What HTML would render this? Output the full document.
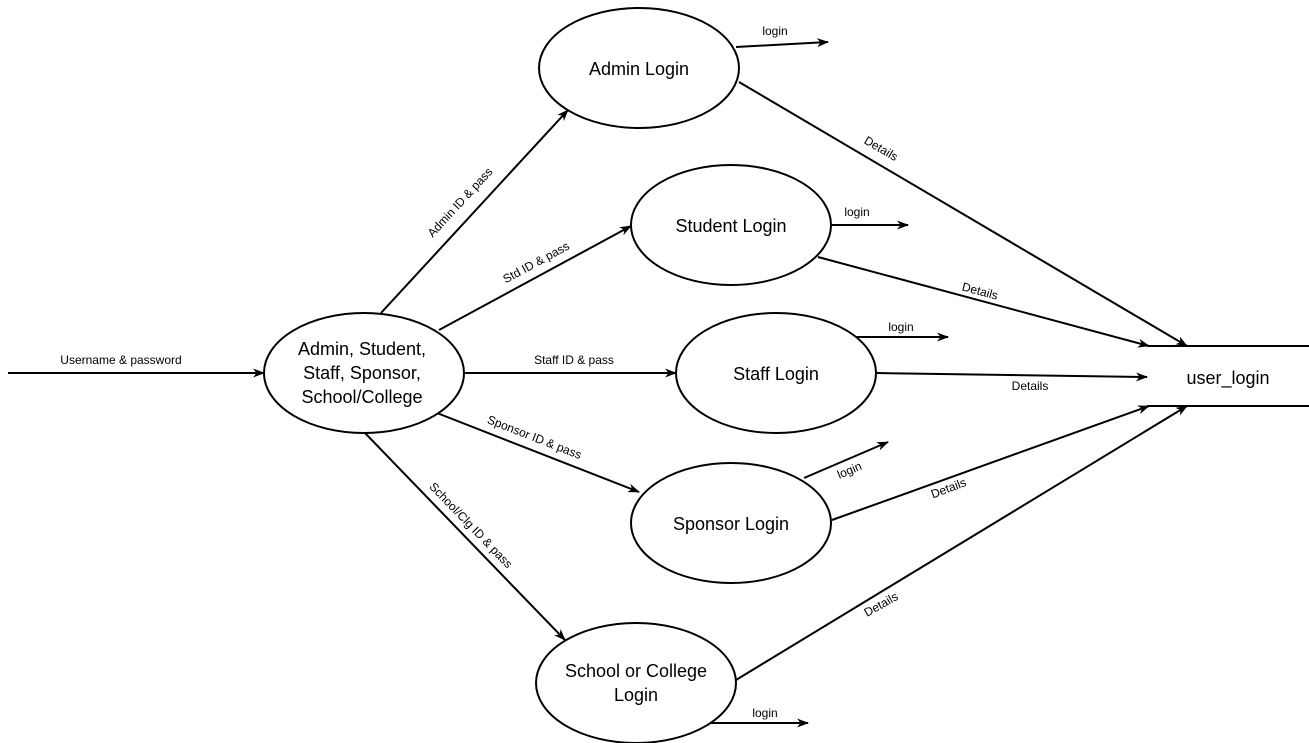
<!DOCTYPE html>
<html><head><meta charset="utf-8"><style>
html,body{margin:0;padding:0;background:#fff;}
svg{display:block;}
text{font-family:"Liberation Sans",Arial,sans-serif;fill:#000;}
.b{font-size:18px;text-anchor:middle;}
.s{font-size:12px;text-anchor:middle;}
</style></head><body>
<svg width="1309" height="743" viewBox="0 0 1309 743">
<defs><marker id="a" markerWidth="12" markerHeight="12" refX="11" refY="6" orient="auto" markerUnits="userSpaceOnUse"><path d="M0,1.5 L12,6 L0,10.5 L3.5,6 Z" fill="#000"/></marker></defs>
<g stroke="#000" stroke-width="2" fill="none">
<line x1="8" y1="373" x2="264" y2="373" marker-end="url(#a)"/>
<line x1="381" y1="313" x2="568" y2="110" marker-end="url(#a)"/>
<line x1="439" y1="330" x2="631" y2="226" marker-end="url(#a)"/>
<line x1="464" y1="373" x2="676" y2="373" marker-end="url(#a)"/>
<line x1="437" y1="413" x2="639" y2="492" marker-end="url(#a)"/>
<line x1="365" y1="433" x2="565" y2="640" marker-end="url(#a)"/>
<line x1="736" y1="47" x2="828" y2="42" marker-end="url(#a)"/>
<line x1="831" y1="225" x2="908" y2="225" marker-end="url(#a)"/>
<line x1="856" y1="337" x2="948" y2="337" marker-end="url(#a)"/>
<line x1="804" y1="478" x2="888" y2="442" marker-end="url(#a)"/>
<line x1="706" y1="723" x2="808" y2="723" marker-end="url(#a)"/>
<line x1="739" y1="82" x2="1187" y2="346" marker-end="url(#a)"/>
<line x1="818" y1="257" x2="1149" y2="346" marker-end="url(#a)"/>
<line x1="876" y1="373" x2="1147" y2="377" marker-end="url(#a)"/>
<line x1="832" y1="520" x2="1149" y2="406" marker-end="url(#a)"/>
<line x1="736" y1="680" x2="1187" y2="406" marker-end="url(#a)"/>
<line x1="1147" y1="346" x2="1309" y2="346"/>
<line x1="1147" y1="406" x2="1309" y2="406"/>
</g>
<g stroke="#000" stroke-width="2" fill="#fff">
<ellipse cx="364" cy="373" rx="100" ry="60"/>
<ellipse cx="639" cy="68" rx="100" ry="60"/>
<ellipse cx="731" cy="225" rx="100" ry="60"/>
<ellipse cx="776" cy="373" rx="100" ry="60"/>
<ellipse cx="731" cy="523" rx="100" ry="60"/>
<ellipse cx="636" cy="683" rx="100" ry="60"/>
</g>
<text class="b" x="362" y="355">Admin, Student,</text>
<text class="b" x="362" y="379">Staff, Sponsor,</text>
<text class="b" x="362" y="403">School/College</text>
<text class="b" x="639" y="75">Admin Login</text>
<text class="b" x="731" y="232">Student Login</text>
<text class="b" x="776" y="380">Staff Login</text>
<text class="b" x="731" y="530">Sponsor Login</text>
<text class="b" x="636" y="677">School or College</text>
<text class="b" x="636" y="701">Login</text>
<text class="b" x="1228" y="384">user_login</text>
<text class="s" x="121" y="364">Username &amp; password</text>
<text class="s" x="574" y="364">Staff ID &amp; pass</text>
<text class="s" transform="translate(463,205) rotate(-47.3)">Admin ID &amp; pass</text>
<text class="s" transform="translate(538,266) rotate(-28.4)">Std ID &amp; pass</text>
<text class="s" transform="translate(533,441) rotate(21.4)">Sponsor ID &amp; pass</text>
<text class="s" transform="translate(468,528) rotate(46)">School/Clg ID &amp; pass</text>
<text class="s" x="775" y="35">login</text>
<text class="s" x="857" y="216">login</text>
<text class="s" x="901" y="331">login</text>
<text class="s" x="765" y="717">login</text>
<text class="s" transform="translate(851,474) rotate(-23)">login</text>
<text class="s" transform="translate(879,152) rotate(30.5)">Details</text>
<text class="s" transform="translate(979,295) rotate(15)">Details</text>
<text class="s" x="1030" y="390">Details</text>
<text class="s" transform="translate(950,492) rotate(-20.6)">Details</text>
<text class="s" transform="translate(883,608) rotate(-29.6)">Details</text>
</svg>
</body></html>
